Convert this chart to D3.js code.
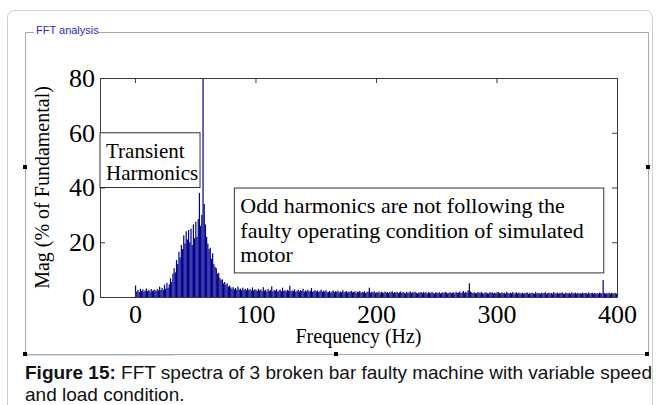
<!DOCTYPE html>
<html>
<head>
<meta charset="utf-8">
<script src="https://cdn.jsdelivr.net/npm/d3@7"></script>
<style>
  body { margin: 0; background: #fff; }
  svg { display: block; }
</style>
</head>
<body>
<div id="chart"></div>
<script>
const WIDTH = 662;
const HEIGHT = 405;
const PLOT = { left: 100, right: 617, top: 78, bottom: 297 };

// FFT magnitude (% of fundamental), one bin per Hz
const mag0to39 = [4.2, 2.0, 2.6, 1.8, 3.0, 2.2, 2.8, 2.0, 2.4, 3.1, 2.2, 2.6, 2.0, 2.9, 2.3, 2.5, 2.7, 2.2, 2.9, 2.4,
    3.8, 2.5, 3.3, 2.6, 4.5, 3.0, 5.2, 3.4, 4.6, 6.8, 5.5, 8.5, 10.5, 9.0, 13.5, 12.0, 16.5, 14.5, 19.0, 17.5];
const mag40to79 = [22.5, 19.5, 24.0, 21.0, 24.5, 20.0, 25.0, 19.0, 26.5, 21.5, 27.5, 22.0, 28.5, 38.0, 26.0, 30.0, 85.0, 34.0, 26.5, 22.0,
    19.5, 17.5, 18.0, 14.0, 16.0, 12.0, 11.0, 10.5, 8.5, 8.8, 7.0, 6.2, 6.5, 5.0, 5.5, 4.5, 5.0, 3.8, 4.2, 3.5];
const mag80to159 = [3.0, 3.6, 2.8, 3.3, 2.6, 3.8, 2.7, 3.1, 2.5, 3.4, 2.6, 3.0, 2.4, 3.2, 2.5, 2.9, 2.3, 3.5, 2.4, 2.8,
    2.6, 2.2, 3.0, 2.4, 2.8, 2.1, 3.6, 2.3, 2.7, 2.0, 2.9, 2.2, 2.5, 3.9, 2.1, 2.6, 2.3, 2.8, 2.0, 2.4,
    2.7, 2.1, 3.4, 2.2, 2.5, 2.0, 2.6, 2.3, 4.1, 2.1, 2.4, 2.2, 2.8, 1.9, 2.3, 2.6, 2.0, 2.5, 2.2, 3.0,
    1.9, 2.4, 2.1, 2.6, 2.0, 2.3, 3.3, 1.9, 2.2, 2.5, 2.0, 2.4, 1.8, 2.2, 2.7, 1.9, 2.3, 2.0, 2.5, 1.8];
const mag160to239 = [1.8, 2.2, 1.6, 2.0, 2.4, 1.7, 2.1, 1.9, 2.3, 1.6, 2.0, 1.8, 2.5, 1.7, 1.9, 2.2, 1.6, 2.0, 1.8, 2.3,
    1.7, 1.9, 2.1, 1.5, 2.0, 1.8, 2.2, 1.6, 1.9, 1.7, 2.1, 1.5, 1.8, 2.0, 3.4, 1.6, 1.9, 1.7, 2.1, 1.5,
    1.8, 1.6, 2.0, 1.4, 1.9, 1.7, 1.5, 2.0, 1.6, 1.8, 1.4, 1.9, 1.7, 2.1, 1.5, 1.8, 1.6, 1.9, 1.4, 1.7,
    2.0, 1.5, 1.8, 1.6, 1.3, 1.9, 1.5, 1.7, 2.0, 1.4, 1.8, 1.6, 1.9, 1.5, 1.3, 1.7, 1.6, 1.8, 1.4, 1.9];
const mag240to319 = [1.5, 1.7, 1.3, 1.8, 1.6, 1.4, 1.9, 1.5, 1.2, 1.7, 1.6, 1.4, 1.8, 1.3, 1.5, 1.7, 1.4, 1.9, 1.6, 1.3,
    1.5, 1.8, 1.4, 1.6, 1.7, 1.3, 1.9, 1.5, 1.6, 2.0, 1.4, 1.7, 2.2, 1.5, 1.8, 1.6, 2.4, 5.0, 2.0, 1.6,
    1.4, 1.7, 1.5, 1.3, 1.8, 1.6, 1.4, 1.9, 1.5, 1.2, 1.7, 1.6, 1.4, 1.3, 1.8, 1.5, 1.7, 1.3, 1.6, 1.4,
    1.2, 1.8, 1.5, 1.3, 1.7, 1.4, 1.6, 1.2, 1.9, 1.5, 1.3, 1.6, 1.4, 1.8, 1.2, 1.5, 1.7, 1.3, 1.6, 1.4];
const mag320to400 = [1.3, 1.6, 1.2, 1.5, 1.4, 1.7, 1.2, 1.5, 1.3, 1.6, 1.4, 1.2, 1.8, 1.3, 1.5, 1.4, 1.2, 1.6, 1.3, 1.5,
    1.7, 1.2, 1.4, 1.6, 1.3, 1.5, 1.2, 1.8, 1.4, 1.3, 1.6, 1.2, 1.5, 1.4, 1.7, 1.3, 1.2, 1.6, 1.4, 1.3,
    1.5, 1.2, 1.7, 1.4, 1.3, 1.6, 1.2, 1.5, 1.3, 1.4, 1.2, 1.6, 1.3, 1.5, 1.4, 1.2, 1.7, 1.3, 1.4, 1.6,
    1.2, 1.5, 1.3, 1.4, 1.2, 1.6, 1.4, 1.3, 6.2, 1.5, 1.2, 1.4, 1.3, 1.6, 1.2, 1.5, 1.4, 1.3, 1.5, 1.2, 1.4];

const xTicks = [0, 100, 200, 300, 400];
const yTicks = [0, 20, 40, 60, 80];
const xDomain = [-29, 400];
const yDomain = [0, 80];

const annotations = [
    { x0: -29, x1: 54, y0: 40, y1: 60, size: 21, lines: ["Transient", "Harmonics"], lineGap: 22.5 },
    { x0: 82.5, x1: 389, y0: 8.8, y1: 39.8, size: 22,
      lines: ["Odd harmonics are not following the", "faulty operating condition of simulated", "motor"], lineGap: 24.6 }
];

const captionBold = "Figure 15:";
const captionRest = " FFT spectra of 3 broken bar faulty machine with variable speed";
const captionLine2 = "and load condition.";

const spectrum = [].concat(mag0to39, mag40to79, mag80to159, mag160to239, mag240to319, mag320to400)
    .map((v, i) => ({ f: i, v: v }));

const svg = d3.select("#chart")
    .append("svg")
        .attr("width", WIDTH)
        .attr("height", HEIGHT);

// window chrome
svg.append("rect")
    .attr("x", 7.5).attr("y", 10.5)
    .attr("width", 645).attr("height", 520)
    .attr("rx", 7)
    .attr("fill", "none")
    .attr("stroke", "#cfcfcf");

const frame = svg.append("g").attr("fill", "none").attr("stroke", "#a8a8a8");
frame.append("path").attr("d", "M34,32.5 H25.5 V354.5 H648.5 V32.5 H98");
svg.append("line")
    .attr("x1", 25).attr("x2", 175).attr("y1", 355.5).attr("y2", 355.5)
    .attr("stroke", "#cfe3f3");
svg.append("text")
    .attr("x", 36).attr("y", 34)
    .attr("font-family", "Liberation Sans, Arial, sans-serif")
    .attr("font-size", 11)
    .attr("fill", "#2b2bb3")
    .text("FFT analysis");

[[25, 167], [648, 167], [25, 354], [336, 354], [647, 354]].forEach(p => {
    svg.append("rect")
        .attr("x", p[0] - 2).attr("y", p[1] - 2)
        .attr("width", 4).attr("height", 4)
        .attr("fill", "#000");
});

const x = d3.scaleLinear().domain(xDomain).range([PLOT.left, PLOT.right]);
const y = d3.scaleLinear().domain(yDomain).range([PLOT.bottom, PLOT.top]);

svg.append("clipPath").attr("id", "plotClip")
    .append("rect")
        .attr("x", PLOT.left).attr("y", PLOT.top)
        .attr("width", PLOT.right - PLOT.left).attr("height", PLOT.bottom - PLOT.top);

svg.append("rect")
    .attr("x", PLOT.left).attr("y", PLOT.top)
    .attr("width", PLOT.right - PLOT.left).attr("height", PLOT.bottom - PLOT.top)
    .attr("fill", "#fff");

svg.append("g")
    .attr("clip-path", "url(#plotClip)")
    .selectAll("rect")
    .data(spectrum)
    .enter()
    .append("rect")
        .attr("x", d => x(d.f))
        .attr("width", d => x(d.f + 1) - x(d.f))
        .attr("y", d => y(d.v))
        .attr("height", d => y(0) - y(d.v))
        .attr("fill", "#00008c");

const serif = "Liberation Serif, Times New Roman, serif";

const styleAxis = g => {
    g.select(".domain").attr("stroke", "#3a3a3a");
    g.selectAll(".tick line").attr("stroke", "#3a3a3a");
    g.selectAll(".tick text")
        .attr("font-family", serif)
        .attr("font-size", 26)
        .attr("fill", "#000");
};

svg.append("g")
    .attr("transform", `translate(0,${PLOT.bottom})`)
    .call(d3.axisBottom(x).tickValues(xTicks).tickSize(-5).tickSizeOuter(0).tickPadding(8))
    .call(styleAxis);
svg.append("g")
    .attr("transform", `translate(0,${PLOT.top})`)
    .call(d3.axisTop(x).tickValues(xTicks).tickSize(-5).tickSizeOuter(0).tickFormat(""))
    .call(styleAxis);
svg.append("g")
    .attr("transform", `translate(${PLOT.left},0)`)
    .call(d3.axisLeft(y).tickValues(yTicks).tickSize(-5).tickSizeOuter(0).tickPadding(5))
    .call(styleAxis);
svg.append("g")
    .attr("transform", `translate(${PLOT.right},0)`)
    .call(d3.axisRight(y).tickValues(yTicks).tickSize(-5).tickSizeOuter(0).tickFormat(""))
    .call(styleAxis);

svg.append("text")
    .attr("x", (PLOT.left + PLOT.right) / 2)
    .attr("y", 343)
    .attr("text-anchor", "middle")
    .attr("font-family", serif)
    .attr("font-size", 20)
    .text("Frequency (Hz)");

svg.append("text")
    .attr("transform", `translate(49,${(PLOT.top + PLOT.bottom) / 2}) rotate(-90)`)
    .attr("text-anchor", "middle")
    .attr("font-family", serif)
    .attr("font-size", 20)
    .text("Mag (% of Fundamental)");

const notes = svg.selectAll(".note")
    .data(annotations)
    .enter()
    .append("g")
        .attr("class", "note");
notes.append("rect")
    .attr("x", d => x(d.x0))
    .attr("y", d => y(d.y1))
    .attr("width", d => x(d.x1) - x(d.x0))
    .attr("height", d => y(d.y0) - y(d.y1))
    .attr("fill", "#fff")
    .attr("stroke", "#333");
notes.each(function(d) {
    d3.select(this).selectAll("text")
        .data(d.lines)
        .enter()
        .append("text")
            .attr("x", x(d.x0) + 6)
            .attr("y", (t, i) => y(d.y1) + 25 + i * d.lineGap)
            .attr("font-family", serif)
            .attr("font-size", d.size)
            .text(t => t);
});

const cap = svg.append("text")
    .attr("x", 25).attr("y", 379)
    .attr("font-family", "Liberation Sans, Arial, sans-serif")
    .attr("font-size", 19)
    .attr("fill", "#111");
cap.append("tspan").attr("font-weight", "bold").text(captionBold);
cap.append("tspan").text(captionRest);
svg.append("text")
    .attr("x", 25).attr("y", 401)
    .attr("font-family", "Liberation Sans, Arial, sans-serif")
    .attr("font-size", 19)
    .attr("fill", "#111")
    .text(captionLine2);
</script>
</body>
</html>
